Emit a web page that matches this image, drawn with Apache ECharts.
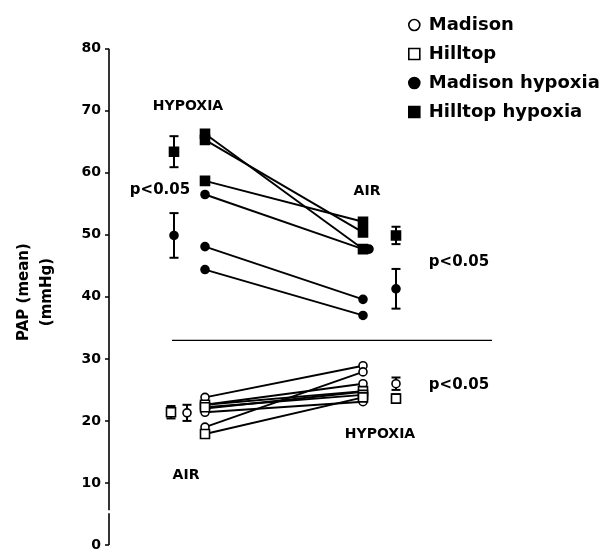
<!DOCTYPE html>
<html>
<head>
<meta charset="utf-8">
<script src="https://cdn.jsdelivr.net/npm/echarts@6/dist/echarts.min.js"></script>
<style>
html,body{margin:0;padding:0;background:#fff;}
#chart{width:607px;height:552px;}
</style>
</head>
<body>
<div id="chart"></div>
<script>
// ---------- data ----------
const yTickValues = [0, 10, 20, 30, 40, 50, 60, 70, 80];
const legendNames = ['Madison', 'Hilltop', 'Madison hypoxia', 'Hilltop hypoxia'];

// x positions of the condition columns (axis units)
const xMeanUpperLeft = 65;
const xMeanHilltopAir = 62;
const xMeanMadisonAir = 78;
const xIndivLeft = 96;
const xIndivRight = 254;
const xMeanRight = 287;

// Upper panel: hypoxia-adapted animals, hypoxia (left) -> air (right)
const hilltopHypoxia_hyp = [66.3, 65.3, 58.7];
const hilltopHypoxia_air = [47.7, 50.4, 52.1];
const madisonHypoxia_hyp = [56.5, 48.1, 44.4];
const madisonHypoxia_air = [47.7, 39.6, 37.0];

// Lower panel: normal animals, air (left) -> hypoxia (right)
const madison_air = [23.8, 19.0, 22.6, 22.0, 21.4];
const madison_hyp = [28.9, 27.9, 26.0, 24.7, 23.1];
const hilltop_air = [22.6, 22.2, 17.9];
const hilltop_hyp = [24.8, 24.2, 23.8];

// group means and error (left, right)
const hilltopHypoxiaMean = [63.4, 49.9];
const hilltopHypoxiaErr = [2.5, 1.4];
const madisonHypoxiaMean = [49.9, 41.3];
const madisonHypoxiaErr = [3.6, 3.2];
const madisonMean = [21.3, 26.0];
const madisonErr = [1.3, 1.0];
const hilltopMean = [21.4, 23.6];
const hilltopErr = [1.0, 0.7];

// divider between panels
const dividerValue = 33.0;
const dividerX = [63, 383];
// axis break
const axisBreak = [5.1, 5.6];

// ---------- chart ----------
const FONT = '"DejaVu Sans", "Liberation Sans", Arial, sans-serif';
const chart = echarts.init(document.getElementById('chart'), null, {renderer: 'canvas'});

const series = [];
function pairLines(leftVals, rightVals, nm) {
  leftVals.forEach((v, i) => {
    series.push({
      type: 'line', name: nm + ' line ' + i, silent: true,
      showSymbol: false, symbol: 'none', z: 2,
      lineStyle: {color: '#000', width: 1.9},
      data: [[xIndivLeft, v], [xIndivRight, rightVals[i]]]
    });
  });
}
function pairPoints(leftVals, rightVals, nm, sym, size, filled, offsets) {
  const data = [];
  leftVals.forEach((v, i) => {
    data.push([xIndivLeft, v]);
    const item = {value: [xIndivRight, rightVals[i]]};
    if (offsets && offsets[i]) item.symbolOffset = offsets[i];
    data.push(item);
  });
  series.push({
    type: 'scatter', name: nm, symbol: sym, symbolSize: size, z: 4,
    itemStyle: {color: filled ? '#000' : '#fff', borderColor: '#000', borderWidth: 1.6, opacity: 1},
    data: data
  });
}
function meanSeries(nm, xs, means, errs, sym, filled) {
  series.push({
    type: 'custom', name: nm, z: 5,
    data: means.map((m, i) => [xs[i], m, errs[i]]),
    renderItem: function (params, api) {
      const x = api.value(0), m = api.value(1), e = api.value(2);
      const t = api.coord([x, m + e]), b = api.coord([x, m - e]), c = api.coord([x, m]);
      const cap = 4.5;
      const ls = {stroke: '#000', lineWidth: 2};
      const children = [
        {type: 'line', shape: {x1: t[0], y1: t[1], x2: b[0], y2: b[1]}, style: ls},
        {type: 'line', shape: {x1: t[0] - cap, y1: t[1], x2: t[0] + cap, y2: t[1]}, style: ls},
        {type: 'line', shape: {x1: b[0] - cap, y1: b[1], x2: b[0] + cap, y2: b[1]}, style: ls}
      ];
      const st = {fill: filled ? '#000' : '#fff', stroke: '#000', lineWidth: 1.6};
      if (sym === 'rect') {
        children.push({type: 'rect', shape: {x: c[0] - 4.5, y: c[1] - 4.5, width: 9, height: 9}, style: st});
      } else {
        children.push({type: 'circle', shape: {cx: c[0], cy: c[1], r: 4}, style: st});
      }
      return {type: 'group', children: children};
    }
  });
}

pairLines(hilltopHypoxia_hyp, hilltopHypoxia_air, 'hh');
pairLines(madisonHypoxia_hyp, madisonHypoxia_air, 'mh');
pairLines(madison_air, madison_hyp, 'm');
pairLines(hilltop_air, hilltop_hyp, 'h');

pairPoints(madison_air, madison_hyp, 'Madison', 'circle', 8, false);
pairPoints(hilltop_air, hilltop_hyp, 'Hilltop', 'rect', 9, false);
pairPoints(madisonHypoxia_hyp, madisonHypoxia_air, 'Madison hypoxia', 'circle', 8, true, [[6, 0], null, null]);
pairPoints(hilltopHypoxia_hyp, hilltopHypoxia_air, 'Hilltop hypoxia', 'rect', 9, true);

meanSeries('Hilltop hypoxia mean', [xMeanUpperLeft, xMeanRight], hilltopHypoxiaMean, hilltopHypoxiaErr, 'rect', true);
meanSeries('Madison hypoxia mean', [xMeanUpperLeft, xMeanRight], madisonHypoxiaMean, madisonHypoxiaErr, 'circle', true);
meanSeries('Hilltop mean', [xMeanHilltopAir, xMeanRight], hilltopMean, hilltopErr, 'rect', false);
meanSeries('Madison mean', [xMeanMadisonAir, xMeanRight], madisonMean, madisonErr, 'circle', false);

// divider line
series.push({
  type: 'line', name: 'divider', silent: true, symbol: 'none', z: 1,
  lineStyle: {color: '#000', width: 1.2},
  data: [[dividerX[0], dividerValue], [dividerX[1], dividerValue]]
});
// y axis line with a small break
series.push({
  type: 'line', name: 'axis low', silent: true, symbol: 'none', clip: false, z: 3,
  lineStyle: {color: '#000', width: 1.6},
  data: [[0, 0], [0, axisBreak[0]]]
});
series.push({
  type: 'line', name: 'axis high', silent: true, symbol: 'none', clip: false, z: 3,
  lineStyle: {color: '#000', width: 1.6},
  data: [[0, axisBreak[1]], [0, yTickValues[yTickValues.length - 1]]]
});

const legendIcon = {
  'Madison': {icon: 'circle', filled: false},
  'Hilltop': {icon: 'rect', filled: false},
  'Madison hypoxia': {icon: 'circle', filled: true},
  'Hilltop hypoxia': {icon: 'rect', filled: true}
};

const txt = (s, x, y, size) => ({
  type: 'text', x: x, y: y, silent: true,
  style: {text: s, fill: '#000', fontSize: size || 14, fontWeight: 'bold', fontFamily: FONT, align: 'center', verticalAlign: 'middle'}
});

chart.setOption({
  animation: false,
  backgroundColor: '#fff',
  grid: {left: 109, right: 98, top: 48.7, bottom: 2, containLabel: false},
  xAxis: {type: 'value', min: 0, max: 400, show: false},
  yAxis: {
    type: 'value', min: yTickValues[0], max: yTickValues[yTickValues.length - 1], interval: 10,
    axisLine: {show: false},
    axisTick: {show: true, inside: false, length: 4, lineStyle: {color: '#000', width: 1.5}},
    axisLabel: {color: '#000', fontSize: 14, fontWeight: 'bold', fontFamily: FONT, margin: 8},
    splitLine: {show: false}
  },
  legend: {
    orient: 'vertical', left: 403, top: 11, itemGap: 11, itemWidth: 11, itemHeight: 11,
    selectedMode: false,
    textStyle: {color: '#000', fontSize: 18, fontWeight: 'bold', fontFamily: FONT, padding: [0, 0, 0, 4]},
    data: legendNames.map(n => ({
      name: n, icon: legendIcon[n].icon,
      itemStyle: {color: legendIcon[n].filled ? '#000' : '#fff', borderColor: '#000', borderWidth: 1.6}
    }))
  },
  graphic: [
    txt('HYPOXIA', 188, 106),
    txt('p<0.05', 160, 190, 15),
    txt('AIR', 367, 191),
    txt('p<0.05', 459, 262, 15),
    txt('p<0.05', 459, 385, 15),
    txt('HYPOXIA', 380, 434),
    txt('AIR', 186, 475),
    Object.assign(txt('PAP (mean)', 24, 292, 15), {rotation: Math.PI / 2}),
    Object.assign(txt('(mmHg)', 47, 292, 15), {rotation: Math.PI / 2})
  ],
  series: series
});
</script>
</body>
</html>
